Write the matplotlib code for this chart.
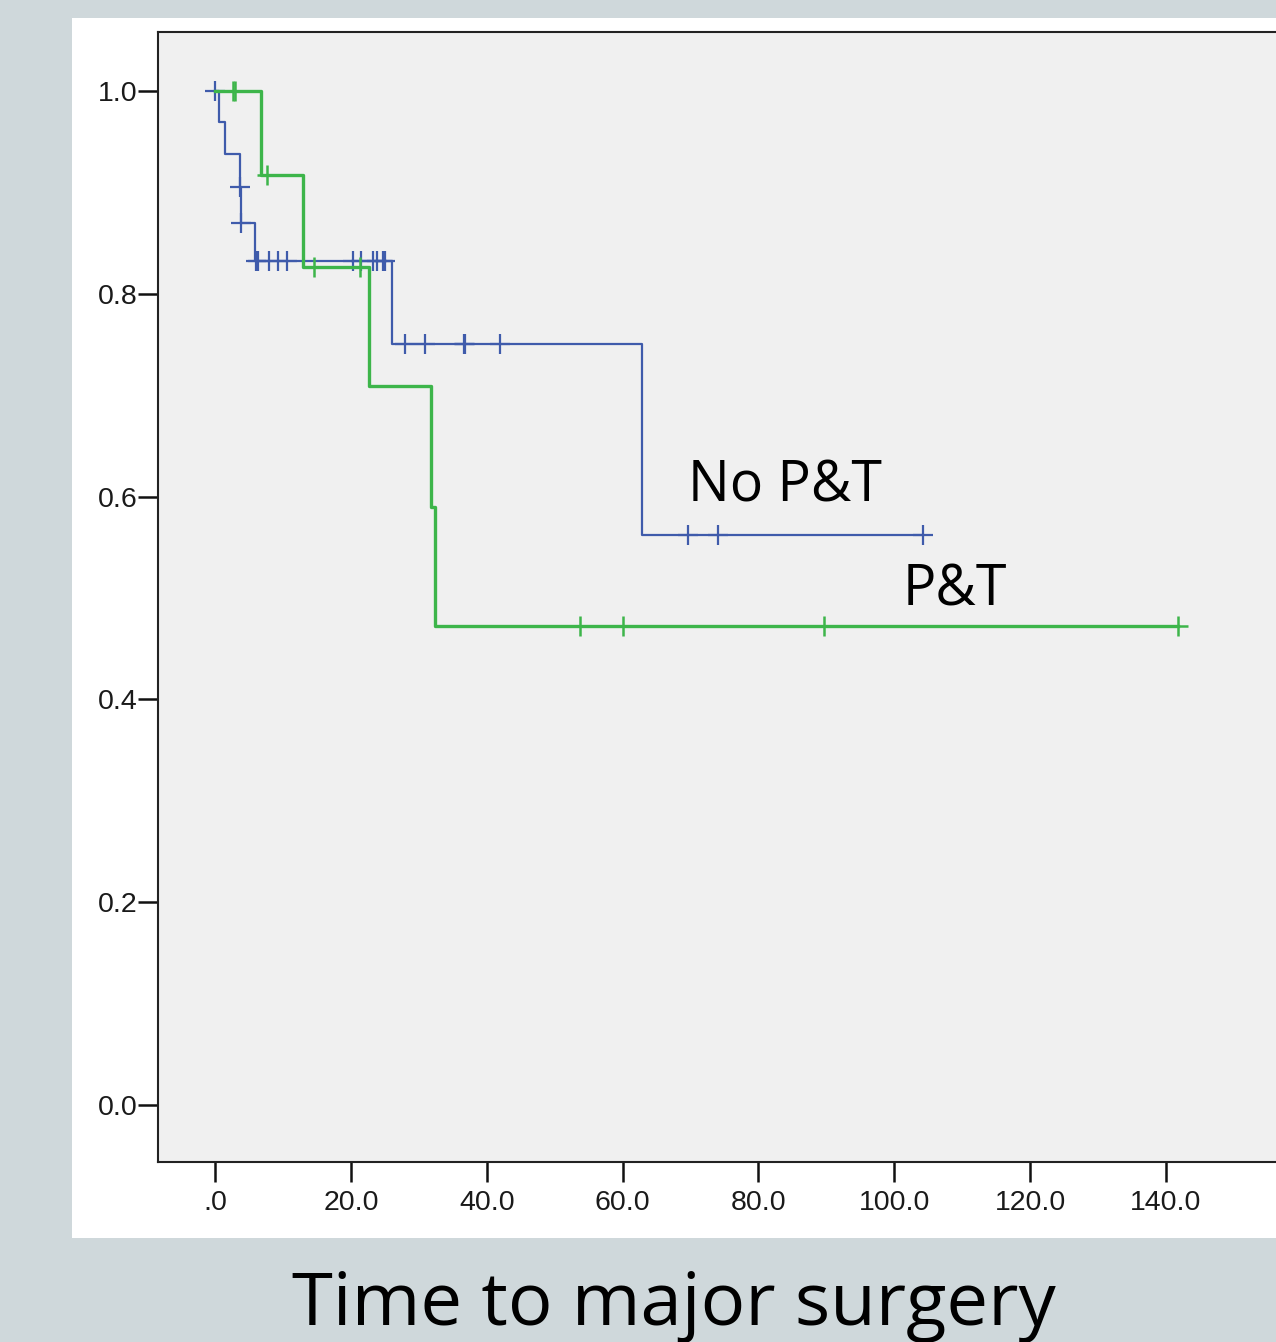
import matplotlib
matplotlib.use("Agg")
import matplotlib.pyplot as plt
from matplotlib.patches import Rectangle

# ---- data ----
blue_times = [0.0, 0.6, 1.5, 3.6, 3.8, 5.9, 26.0, 62.8, 104.3]
blue_surv = [1.0, 0.969, 0.9375, 0.905, 0.8695, 0.832, 0.75, 0.562, 0.562]
blue_cens_t = [0.0, 3.6, 3.8, 6.0, 6.3, 7.95, 9.3, 10.6, 20.3, 21.5, 23.3, 23.8,
               24.7, 25.0, 28.0, 30.9, 36.6, 36.8, 41.9, 69.6, 74.0, 104.3]
blue_cens_s = [1.0, 0.905, 0.8695, 0.832, 0.832, 0.832, 0.832, 0.832, 0.832, 0.832,
               0.832, 0.832, 0.832, 0.832, 0.75, 0.75, 0.75, 0.75, 0.75, 0.562,
               0.562, 0.562]

green_times = [0.0, 6.8, 12.9, 22.6, 31.8, 32.4, 141.8]
green_surv = [1.0, 0.917, 0.826, 0.709, 0.590, 0.4724, 0.4724]
green_cens_t = [2.6, 3.0, 7.6, 14.6, 21.3, 53.7, 60.1, 89.6, 141.8]
green_cens_s = [1.0, 1.0, 0.917, 0.826, 0.826, 0.4724, 0.4724, 0.4724, 0.4724]

x_ticks = [0, 20, 40, 60, 80, 100, 120, 140]
x_tick_labels = [".0", "20.0", "40.0", "60.0", "80.0", "100.0", "120.0", "140.0"]
y_ticks = [0.0, 0.2, 0.4, 0.6, 0.8, 1.0]
y_tick_labels = ["0.0", "0.2", "0.4", "0.6", "0.8", "1.0"]

label_blue = "No P&T"
label_green = "P&T"
caption = "Time to major surgery"

# ---- figure ----
W, H = 1276, 1342
fig = plt.figure(figsize=(W / 100, H / 100), dpi=100)
fig.patch.set_facecolor("#cfd8db")

# white panel (background)
panel = Rectangle((72 / W, 1 - 1238 / H), (W - 72) / W, (1238 - 18) / H,
                  transform=fig.transFigure, facecolor="white",
                  edgecolor="none", zorder=-10)
fig.add_artist(panel)

ax = fig.add_axes([158 / W, 1 - 1162 / H, (W - 158) / W, (1162 - 32) / H])
ax.set_zorder(1)
ax.set_facecolor("#f0f0f0")

blue = "#3f5bab"
green = "#3db54a"

ax.step(blue_times, blue_surv, where="post", color=blue, lw=1.6, zorder=3)
ax.plot(blue_cens_t, blue_cens_s, linestyle="none", marker="+", ms=15, mew=1.6,
        color=blue, zorder=3)
ax.step(green_times, green_surv, where="post", color=green, lw=2.4, zorder=4)
ax.plot(green_cens_t, green_cens_s, linestyle="none", marker="+", ms=15, mew=1.8,
        color=green, zorder=4)

ax.set_xlim(-8.4, 156.2)
ax.set_ylim(-0.056, 1.058)

ax.set_xticks(x_ticks)
ax.set_xticklabels(x_tick_labels)
ax.set_yticks(y_ticks)
ax.set_yticklabels(y_tick_labels)

for s in ["left", "bottom", "top"]:
    ax.spines[s].set_color("#222222")
    ax.spines[s].set_linewidth(1.5)
ax.spines["right"].set_visible(False)

ax.tick_params(axis="both", direction="out", length=14.5, width=1.8, color="#111111",
               labelsize=20.5, labelcolor="#1a1a1a")
ax.tick_params(axis="y", pad=0)
ax.tick_params(axis="x", pad=6)
for lab in ax.get_xticklabels() + ax.get_yticklabels():
    lab.set_family(["Liberation Sans", "DejaVu Sans"])

ax.text(69.7, 0.595, label_blue, fontsize=40, family=["Open Sans", "DejaVu Sans"],
        ha="left", va="baseline", color="black", zorder=5)
ax.text(101.3, 0.493, label_green, fontsize=40, family=["Open Sans", "DejaVu Sans"],
        ha="left", va="baseline", color="black", zorder=5)

fig.text(673.5 / W, 1 - 1325 / H, caption, fontsize=53.5,
         family=["Open Sans", "DejaVu Sans"], ha="center", va="baseline", color="black")

fig.savefig("out.png", dpi=100, facecolor=fig.get_facecolor())
